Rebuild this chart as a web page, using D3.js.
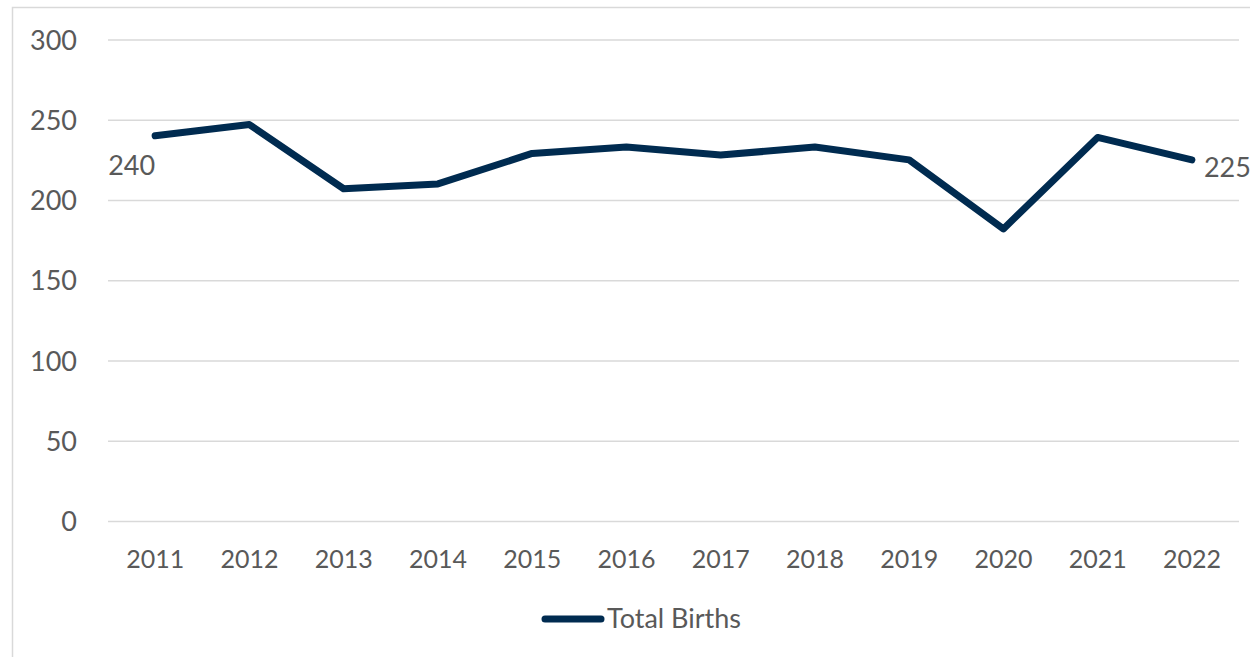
<!DOCTYPE html>
<html>
<head>
<meta charset="utf-8">
<script src="https://cdn.jsdelivr.net/npm/d3@7"></script>
<style>
  body { margin: 0; background: #fff; }
  #chart { width: 1250px; height: 657px; }
  text { font-family: Lato, "Open Sans", sans-serif; fill: #595959; }
</style>
</head>
<body>
<div id="chart"></div>
<script>
//Datos
const years = ['2011','2012','2013','2014','2015','2016','2017','2018','2019','2020','2021','2022'];
const totalBirths = [240, 247, 207, 210, 229, 233, 228, 233, 225, 182, 239, 225];
const yTicks = [0, 50, 100, 150, 200, 250, 300];
const seriesName = 'Total Births';

const COLOR_LINE = '#002b50',
    COLOR_GRID = '#d9d9d9',
    COLOR_TEXT = '#595959';

let margin = {top: 39.5, right: 11, bottom: 136, left: 108},
    width = 1250 - margin.left - margin.right,
    height = 657 - margin.top - margin.bottom;

let root = d3.select('#chart')
    .append('svg')
      .attr('width', 1250)
      .attr('height', 657);

//Borde del gráfico
root.append('rect')
    .attr('x', 12.5)
    .attr('y', 7.5)
    .attr('width', 1260)
    .attr('height', 670)
    .attr('fill', 'none')
    .attr('stroke', COLOR_GRID)
    .attr('stroke-width', 1.5);

let svg = root.append('g')
    .attr('transform', 'translate(' + margin.left + ',' + margin.top + ')');

let x = d3.scaleBand()
    .domain(years)
    .range([0, width]);

let y = d3.scaleLinear()
    .domain([0, 300])
    .range([height, 0]);

//Rejilla + eje Y
let yAxis = svg.append('g')
    .call(d3.axisLeft(y).tickValues(yTicks).tickSize(-width).tickPadding(31));
yAxis.select('.domain').remove();
yAxis.selectAll('line').attr('stroke', COLOR_GRID).attr('stroke-width', 1.5);
yAxis.selectAll('text')
    .style('font-size', '27px')
    .attr('fill', COLOR_TEXT)
    .attr('dy', '0.36em');

//Eje X
let xAxis = svg.append('g')
    .attr('transform', 'translate(0,' + height + ')')
    .call(d3.axisBottom(x).tickSize(0).tickPadding(29));
xAxis.select('.domain').remove();
xAxis.selectAll('text')
    .style('font-size', '25px')
    .attr('fill', COLOR_TEXT);

//Línea
let line = d3.line()
    .x(function(d, i) { return x(years[i]) + x.bandwidth() / 2; })
    .y(function(d) { return y(d); });

svg.append('path')
    .datum(totalBirths)
    .attr('d', line)
    .attr('fill', 'none')
    .attr('stroke', COLOR_LINE)
    .attr('stroke-width', 7)
    .attr('stroke-linejoin', 'round')
    .attr('stroke-linecap', 'round');

//Etiquetas de datos (primer y último valor)
let first = 0, last = totalBirths.length - 1;
svg.append('text')
    .attr('x', x(years[first]) + x.bandwidth() / 2)
    .attr('y', y(totalBirths[first]) + 39)
    .attr('text-anchor', 'end')
    .style('font-size', '27px')
    .text(totalBirths[first]);

svg.append('text')
    .attr('x', x(years[last]) + x.bandwidth() / 2 + 12)
    .attr('y', y(totalBirths[last]) + 17)
    .attr('text-anchor', 'start')
    .style('font-size', '27px')
    .text(totalBirths[last]);

//Leyenda
let legend = root.append('g')
    .attr('transform', 'translate(545,619)');
legend.append('line')
    .attr('x1', 0).attr('x2', 56)
    .attr('y1', 0).attr('y2', 0)
    .attr('stroke', COLOR_LINE)
    .attr('stroke-width', 7)
    .attr('stroke-linecap', 'round');
legend.append('text')
    .attr('x', 62)
    .attr('y', 9)
    .style('font-size', '27px')
    .text(seriesName);
</script>
</body>
</html>
